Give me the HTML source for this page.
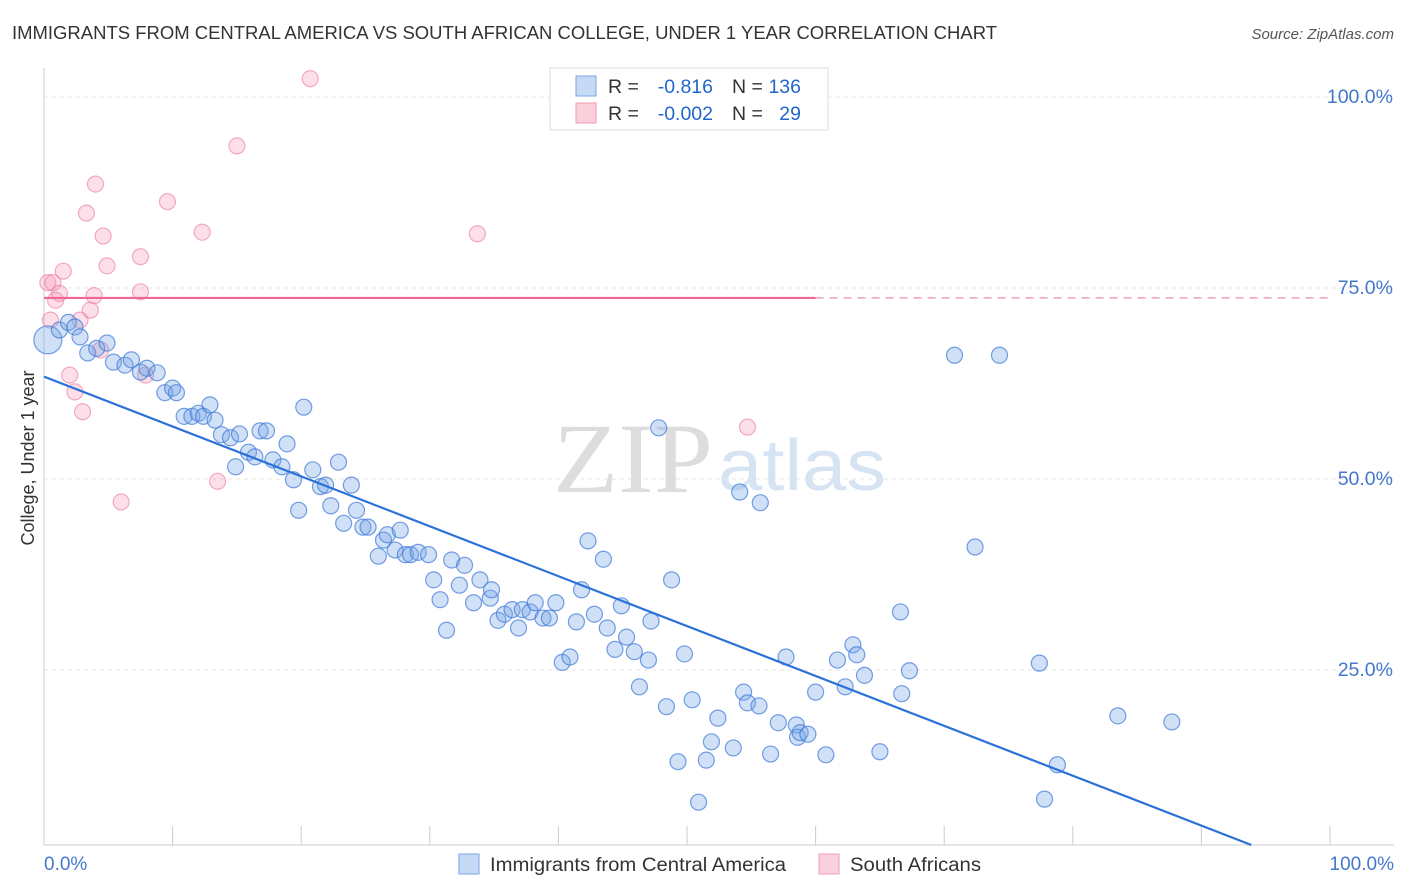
<!DOCTYPE html>
<html><head><meta charset="utf-8"><style>
body{margin:0;background:#fff;font-family:"Liberation Sans",sans-serif;}
svg{display:block}
</style></head><body>
<svg id="chart" width="1406" height="892">
<text x="12" y="39" font-size="18.5" fill="#333" textLength="985" lengthAdjust="spacingAndGlyphs">IMMIGRANTS FROM CENTRAL AMERICA VS SOUTH AFRICAN COLLEGE, UNDER 1 YEAR CORRELATION CHART</text>
<text x="1394" y="39" font-size="15" fill="#555" font-style="italic" text-anchor="end">Source: ZipAtlas.com</text>
<text x="553" y="492" font-size="100" fill="#ddd" font-family="Liberation Serif,serif" textLength="160" lengthAdjust="spacingAndGlyphs">ZIP</text>
<text x="718" y="490" font-size="72" fill="#d5e3f3" textLength="168" lengthAdjust="spacingAndGlyphs">atlas</text>
<g id="grid"></g><g id="axes"></g><g id="pts"></g><g id="lines"></g>
<text transform="translate(34,458) rotate(-90)" font-size="18" fill="#333" text-anchor="middle">College, Under 1 year</text>
<text x="44" y="870" font-size="19" fill="#4477cc">0.0%</text>
<text x="1394" y="870" font-size="19" fill="#4477cc" text-anchor="end">100.0%</text>
<g>
<rect x="550" y="68" width="278" height="62" fill="#fff" stroke="#ddd"/>
<rect x="576" y="76" width="20" height="20" fill="#c6d9f5" stroke="#7aa6e6"/>
<rect x="576" y="103" width="20" height="20" fill="#fbd0dd" stroke="#f09ab4"/>
<text x="608" y="93" font-size="19.5" fill="#333">R =</text>
<text x="713" y="93" font-size="19.5" fill="#2266cc" text-anchor="end">-0.816</text>
<text x="732" y="93" font-size="19.5" fill="#333">N =</text>
<text x="801" y="93" font-size="19.5" fill="#2266cc" text-anchor="end">136</text>
<text x="608" y="120" font-size="19.5" fill="#333">R =</text>
<text x="713" y="120" font-size="19.5" fill="#2266cc" text-anchor="end">-0.002</text>
<text x="732" y="120" font-size="19.5" fill="#333">N =</text>
<text x="801" y="120" font-size="19.5" fill="#2266cc" text-anchor="end">29</text>
</g>
<g>
<rect x="459" y="854" width="20" height="20" fill="#c6d9f5" stroke="#7aa6e6"/>
<text x="490" y="871" font-size="19" fill="#333" textLength="296" lengthAdjust="spacingAndGlyphs">Immigrants from Central America</text>
<rect x="819" y="854" width="20" height="20" fill="#fbd0dd" stroke="#f09ab4"/>
<text x="850" y="871" font-size="19" fill="#333" textLength="131" lengthAdjust="spacingAndGlyphs">South Africans</text>
</g>
</svg>
<script>
const yTicks=[100,75,50,25];
const yTickLabels=["100.0%","75.0%","50.0%","25.0%"];
const blueX=[0.3,1.2,1.9,2.4,2.8,3.4,4.1,4.9,5.4,6.3,6.8,7.5,8.0,8.8,9.4,10.0,10.3,10.9,11.5,12.0,12.4,12.9,13.3,13.8,14.5,14.9,15.2,15.9,16.4,16.8,17.3,17.8,18.5,18.9,19.4,19.8,20.2,20.9,21.5,21.9,22.3,22.9,23.3,23.9,24.3,24.8,25.2,26.0,26.4,26.7,27.3,27.7,28.1,28.5,29.1,29.9,30.3,30.8,31.3,31.7,32.3,32.7,33.4,33.9,34.7,34.8,35.3,35.8,36.4,36.9,37.2,37.8,38.2,38.8,39.3,39.8,40.3,40.9,41.4,41.8,42.3,42.8,43.5,43.8,44.4,44.9,45.3,45.9,46.3,47.0,47.2,47.8,48.4,48.8,49.3,49.8,50.4,50.9,51.5,51.9,52.4,53.6,54.1,54.4,54.7,55.6,55.7,56.5,57.1,57.7,58.5,58.6,58.8,59.4,60.0,60.8,61.7,62.3,62.9,63.2,63.8,65.0,66.6,66.7,67.3,70.8,72.4,74.3,77.4,77.8,78.8,83.5,87.7];
const blueY=[68.2,69.5,70.5,69.9,68.6,66.5,67.1,67.8,65.3,64.9,65.6,64.0,64.5,63.9,61.3,61.9,61.3,58.2,58.2,58.6,58.2,59.7,57.7,55.8,55.4,51.6,55.9,53.5,52.9,56.3,56.3,52.5,51.6,54.6,49.9,45.9,59.4,51.2,49.0,49.2,46.5,52.2,44.2,49.2,45.9,43.7,43.7,39.9,42.0,42.7,40.7,43.3,40.1,40.1,40.4,40.1,36.8,34.2,30.2,39.4,36.1,38.7,33.8,36.8,34.4,35.5,31.5,32.3,32.9,30.5,32.9,32.6,33.8,31.8,31.8,33.8,26.0,26.7,31.3,35.5,41.9,32.3,39.5,30.5,27.7,33.4,29.3,27.4,22.8,26.3,31.4,56.7,20.2,36.8,13.0,27.1,21.1,7.7,13.2,15.6,18.7,14.8,48.3,22.1,20.7,20.3,46.9,14.0,18.1,26.7,17.8,16.2,16.8,16.6,22.1,13.9,26.3,22.8,28.3,27.0,24.3,14.3,32.6,21.9,24.9,66.2,41.1,66.2,25.9,8.1,12.6,19.0,18.2];
const pinkX=[0.3,0.7,0.9,1.2,1.5,2.0,2.4,2.8,3.0,3.3,3.6,3.9,4.0,4.4,4.6,4.9,6.0,7.5,7.5,7.9,9.6,12.3,13.5,15.0,20.7,33.7,54.7,0.5];
const pinkY=[75.7,75.7,73.4,74.3,77.2,63.6,61.4,70.8,58.8,84.8,72.1,74.0,88.6,66.9,81.8,77.9,47.0,79.1,74.5,63.6,86.3,82.3,49.7,93.6,102.4,82.1,56.8,70.8];
const blueLine=[63.4,-0.653];
const pinkLine=[73.7,0];
const X=v=>44+v*12.86, Y=v=>861-v*7.64;
const ns="http://www.w3.org/2000/svg";
function mk(t,a,p){const e=document.createElementNS(ns,t);for(const k in a)e.setAttribute(k,a[k]);document.getElementById(p).appendChild(e);return e;}
yTicks.forEach((t,i)=>{
 const g=mk('line',{x1:44,x2:1394,y1:Y(t),y2:Y(t),stroke:'#e3e3e3','stroke-dasharray':'4,4'},'grid');
 
 
 const l=mk('text',{x:1393,y:Y(t)+6,'font-size':19.5,fill:'#4477cc','text-anchor':'end'},'grid');
 l.textContent=yTickLabels[i];
 
 
});
const ax=mk('line',{x1:44,x2:1394,y1:845,y2:845,stroke:'#ccc'},'axes');


const ay=mk('line',{x1:44,x2:44,y1:68,y2:845,stroke:'#ccc'},'axes');


for(let i=0;i<=10;i++){const t=mk('line',{x1:X(i*10),x2:X(i*10),y1:826,y2:845,stroke:'#ccc'},'axes');
 
 }
pinkX.forEach((x,i)=>{const c=mk('circle',{cx:X(x),cy:Y(pinkY[i]),r:8,fill:'rgba(245,150,180,0.3)',stroke:'rgba(235,120,160,0.6)','stroke-width':1.2},'pts');
 
 });
blueX.forEach((x,i)=>{const c=mk('circle',{cx:X(x),cy:Y(blueY[i]),r:i==0?14:8,fill:'rgba(120,165,230,0.35)',stroke:'rgba(60,120,215,0.7)','stroke-width':1.2},'pts');
 
 });
const yEnd=(861-845)/7.64;
const bx2=(yEnd-blueLine[0])/blueLine[1];
const bl=mk('line',{x1:X(0),y1:Y(blueLine[0]),x2:X(bx2),y2:Y(yEnd),stroke:'#2b72d8','stroke-width':2.2},'lines');


const pl=mk('line',{x1:X(0),y1:Y(pinkLine[0]),x2:X(60),y2:Y(pinkLine[0]+pinkLine[1]*60),stroke:'#f06890','stroke-width':2.2},'lines');


const pd=mk('line',{x1:X(60),y1:Y(pinkLine[0]+pinkLine[1]*60),x2:X(100),y2:Y(pinkLine[0]+pinkLine[1]*100),stroke:'#f0a0b8','stroke-width':1.5,'stroke-dasharray':'8,6'},'lines');


</script>
</body></html>
